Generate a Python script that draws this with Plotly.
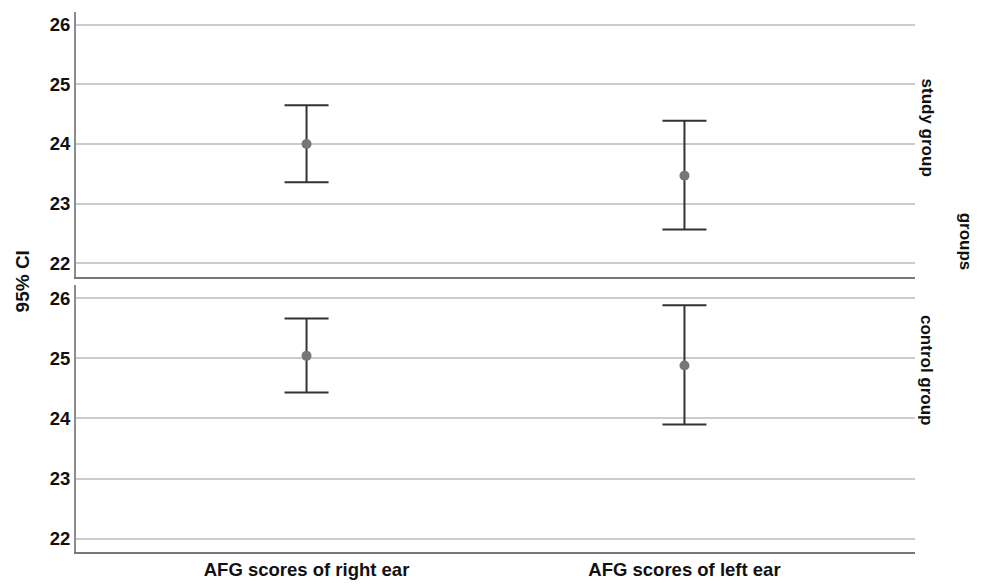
import plotly.graph_objects as go

categories = ["AFG scores of right ear", "AFG scores of left ear"]
groups = ["study group", "control group"]
study_mean = [24.00, 23.47]
study_upper = [24.65, 24.39]
study_lower = [23.36, 22.57]
control_mean = [25.04, 24.88]
control_upper = [25.66, 25.88]
control_lower = [24.43, 23.90]
y_ticks = [22, 23, 24, 25, 26]

FONT = "Liberation Sans, Arial, sans-serif"
xpos = list(range(len(categories)))

fig = go.Figure()

def add_panel(mean, upper, lower, xa, ya):
    fig.add_trace(go.Scatter(
        x=xpos, y=mean, mode="markers", xaxis=xa, yaxis=ya,
        marker=dict(color="#777777", size=10),
        error_y=dict(type="data", symmetric=False,
                     array=[u - m for u, m in zip(upper, mean)],
                     arrayminus=[m - l for m, l in zip(mean, lower)],
                     color="#333333", thickness=2, width=22),
        showlegend=False, hoverinfo="skip"))

add_panel(study_mean, study_upper, study_lower, "x", "y")
add_panel(control_mean, control_upper, control_lower, "x2", "y2")

yax = dict(range=[21.78, 26.21], tickvals=y_ticks, showgrid=True,
           gridcolor="#cccccc", gridwidth=1.5, showline=True, linecolor="#8c8c8c",
           linewidth=2, zeroline=False, ticks="",
           tickfont=dict(family=FONT, size=18.5, color="#111111", weight="bold"))
xax = dict(range=[-0.61, 1.61], showgrid=False, zeroline=False, showline=True,
           linecolor="#777777", linewidth=2, ticks="",
           tickvals=xpos, ticktext=categories,
           tickfont=dict(family=FONT, size=18.5, color="#111111", weight="bold"))

side_font = dict(family=FONT, size=17, color="#111111", weight="bold")

def ann(text, x, y, angle, font):
    return dict(text=text, x=x, y=y, xref="paper", yref="paper",
                xanchor="center", yanchor="middle",
                textangle=angle, showarrow=False, font=font)

fig.update_layout(
    width=976, height=576,
    margin=dict(l=68, r=69, t=4, b=29),
    paper_bgcolor="white", plot_bgcolor="white",
    xaxis=dict(xax, domain=[0, 1], anchor="y", showticklabels=False),
    yaxis=dict(yax, domain=[0.510, 1.0], anchor="x"),
    xaxis2=dict(xax, domain=[0, 1], anchor="y2"),
    yaxis2=dict(yax, domain=[0.0, 0.4936], anchor="x2"),
    annotations=[
        ann(groups[0], 1.0143, 0.786, 90, side_font),
        ann(groups[1], 1.0143, 0.337, 90, side_font),
        ann("groups", 1.0596, 0.5746, 90, side_font),
        ann("95% CI", -0.0644, 0.501, -90,
            dict(family=FONT, size=19, color="#111111", weight="bold")),
    ],
)

fig.write_html("out.html")
